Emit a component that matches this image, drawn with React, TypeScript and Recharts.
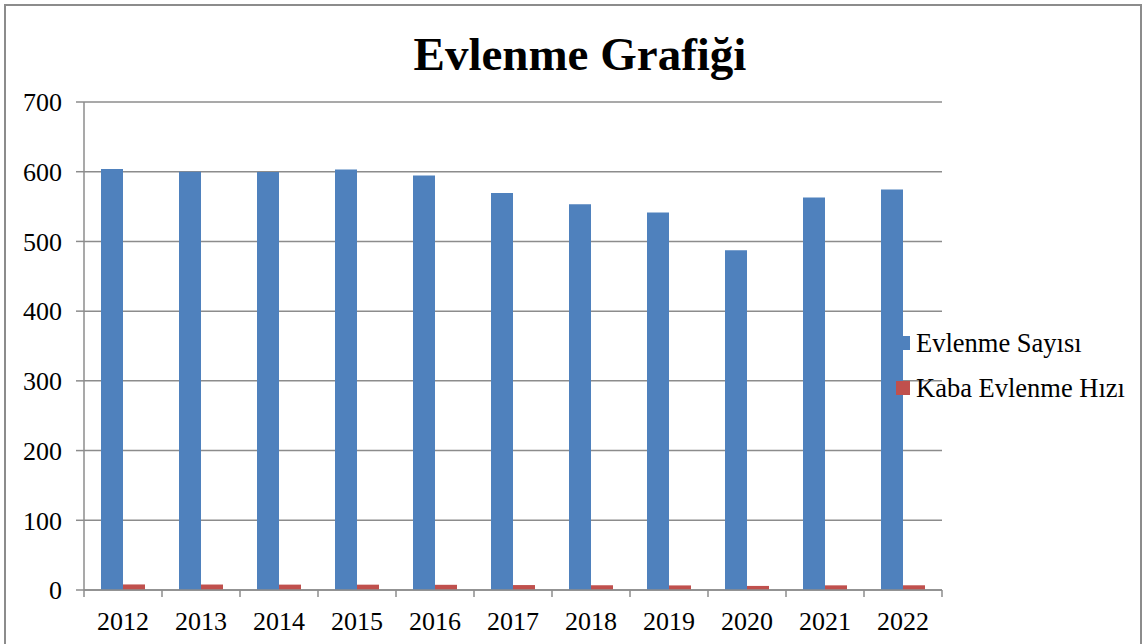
import { BarChart, Bar, XAxis, YAxis, CartesianGrid } from 'recharts';

// Evlenme Grafiği — yearly marriages (thousands) and crude marriage rate (‰)

const years = ['2012', '2013', '2014', '2015', '2016', '2017', '2018', '2019', '2020', '2021', '2022'];
const marriageCount = [603.8, 600.1, 599.7, 603.0, 594.5, 569.5, 553.2, 541.4, 487.3, 563.1, 574.4];
const crudeRate = [7.98, 7.86, 7.72, 7.66, 7.46, 7.09, 6.81, 6.58, 5.84, 6.68, 6.76];
const yTicks = [0, 100, 200, 300, 400, 500, 600, 700];

const seriesNames = ['Evlenme Sayısı', 'Kaba Evlenme Hızı'];
const TITLE = 'Evlenme Grafiği';

const W = 1145;
const H = 644;
const MARGIN = { top: 102, right: 203, left: 0, bottom: 0 };
const Y_WIDTH = 84;
const X_HEIGHT = 54;
const PLOT_W = W - MARGIN.right - Y_WIDTH;
const BAND = PLOT_W / years.length;

const FONT = "'Liberation Serif', 'Times New Roman', serif";
const AXIS = '#8c8c8c';
const COLORS = ['#4f81bd', '#c0504d'];

const data = years.map((year, i) => ({
  year,
  count: marriageCount[i],
  rate: crudeRate[i],
}));

/* eslint-disable @typescript-eslint/no-explicit-any */
function XTick({ x, y, payload, index }: any) {
  const half = BAND / 2;
  return (
    <g>
      <line x1={x - half} x2={x - half} y1={y} y2={y + 7} stroke={AXIS} strokeWidth={1.5} />
      {index === years.length - 1 && (
        <line x1={x + half} x2={x + half} y1={y} y2={y + 7} stroke={AXIS} strokeWidth={1.5} />
      )}
      <text x={x} y={y + 40} textAnchor="middle" fill="#000" fontSize={26} fontFamily={FONT}>
        {payload.value}
      </text>
    </g>
  );
}
/* eslint-enable @typescript-eslint/no-explicit-any */

export default function App() {
  return (
    <div style={{ position: 'absolute', left: 0, top: 0, width: W, height: H, background: '#fff', overflow: 'hidden' }}>
      <div
        style={{
          position: 'absolute',
          left: 4,
          top: 4,
          width: 1134,
          height: 720,
          border: `2px solid ${AXIS}`,
        }}
      />
      <div
        style={{
          position: 'absolute',
          left: 0,
          top: 31,
          width: 1160,
          textAlign: 'center',
          fontFamily: FONT,
          fontWeight: 'bold',
          fontSize: 47,
          lineHeight: '47px',
          color: '#000',
        }}
      >
        {TITLE}
      </div>
      <div style={{ position: 'absolute', left: 0, top: 0 }}>
        <BarChart width={W} height={H} data={data} margin={MARGIN} barSize={22} barGap={0}>
          <CartesianGrid vertical={false} stroke={AXIS} strokeWidth={1.5} />
          <XAxis
            dataKey="year"
            height={X_HEIGHT}
            tickSize={0}
            tickMargin={0}
            tickLine={false}
            tick={<XTick />}
            axisLine={{ stroke: AXIS, strokeWidth: 1.5 }}
            interval={0}
          />
          <YAxis
            width={Y_WIDTH}
            domain={[0, 700]}
            ticks={yTicks}
            tickSize={8}
            tickMargin={14}
            tickLine={{ stroke: AXIS, strokeWidth: 1.5 }}
            axisLine={{ stroke: AXIS, strokeWidth: 1.5 }}
            tick={{ fontSize: 26, fontFamily: FONT, fill: '#000' }}
          />
          <Bar dataKey="count" name={seriesNames[0]} fill={COLORS[0]} isAnimationActive={false} />
          <Bar dataKey="rate" name={seriesNames[1]} fill={COLORS[1]} isAnimationActive={false} />
        </BarChart>
      </div>
      {seriesNames.map((name, i) => (
        <div key={name} style={{ position: 'absolute', left: 896, top: 330 + i * 45, height: 27 }}>
          <span
            style={{
              position: 'absolute',
              left: 0,
              top: 6,
              width: 14,
              height: 14,
              background: COLORS[i],
            }}
          />
          <span
            style={{
              position: 'absolute',
              left: 20,
              top: 0,
              whiteSpace: 'nowrap',
              fontFamily: FONT,
              fontSize: 26.5,
              lineHeight: '26.5px',
              color: '#000',
            }}
          >
            {name}
          </span>
        </div>
      ))}
    </div>
  );
}
